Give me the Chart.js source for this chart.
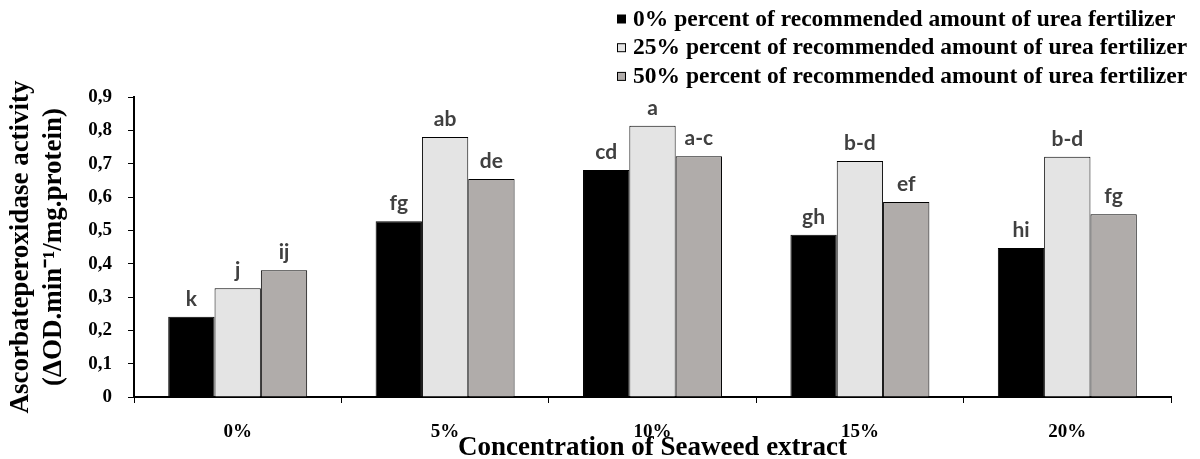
<!DOCTYPE html>
<html>
<head>
<meta charset="utf-8">
<script src="https://cdn.jsdelivr.net/npm/chart.js@4"></script>
<style>
  html, body { margin: 0; padding: 0; background: #fff; }
  #wrap { width: 1200px; height: 459px; }
</style>
</head>
<body>
<div id="wrap"><canvas id="myChart"></canvas></div>
<script>
const categories = ['0%', '5%', '10%', '15%', '20%'];
const seriesNames = [
    '0% percent of recommended amount of urea fertilizer',
    '25% percent of recommended amount of urea fertilizer',
    '50% percent of recommended amount of urea fertilizer'
];
const urea0 = [0.241, 0.527, 0.681, 0.487, 0.447];
const urea25 = [0.326, 0.780, 0.814, 0.708, 0.721];
const urea50 = [0.380, 0.654, 0.722, 0.585, 0.548];
const letters0 = ['k', 'fg', 'cd', 'gh', 'hi'];
const letters25 = ['j', 'ab', 'a', 'b-d', 'b-d'];
const letters50 = ['ij', 'de', 'a-c', 'ef', 'fg'];
const yMin = 0, yMax = 0.9, yStep = 0.1;

const fills = ['#000000', '#e4e4e4', '#b0acaa'];
const serif = "'Liberation Serif', 'Times New Roman', serif";

// letters over the bars
const letterPlugin = {
    id: 'letters',
    afterDatasetsDraw(chart) {
        const all = [letters0, letters25, letters50];
        const ctx = chart.ctx;
        ctx.save();
        ctx.font = "bold 21px Lato, 'Open Sans', sans-serif";
        ctx.fillStyle = '#404040';
        ctx.textAlign = 'center';
        ctx.textBaseline = 'alphabetic';
        all.forEach((letters, i) => {
            chart.getDatasetMeta(i).data.forEach((bar, j) => {
                ctx.fillText(letters[j], bar.x, bar.y - 11);
            });
        });
        ctx.restore();
    }
};

// legend, stacked rows at top right
const legendPlugin = {
    id: 'sideLegend',
    afterDraw(chart) {
        const ctx = chart.ctx;
        ctx.save();
        ctx.font = 'bold 23.5px ' + serif;
        ctx.textBaseline = 'middle';
        ctx.textAlign = 'left';
        chart.data.datasets.forEach((ds, i) => {
            const y = 19.5 + i * 28.7;
            ctx.fillStyle = ds.backgroundColor;
            ctx.fillRect(617.5, y - 4.5, 8, 8);
            ctx.strokeStyle = '#000';
            ctx.lineWidth = 1;
            ctx.strokeRect(617.5, y - 4.5, 8, 8);
            ctx.fillStyle = '#000';
            ctx.fillText(ds.label, 633, y);
        });
        ctx.restore();
    }
};

const ctx = document.getElementById('myChart').getContext('2d');
const myChart = new Chart(ctx, {
    type: 'bar',
    data: {
        labels: categories,
        datasets: [urea0, urea25, urea50].map((vals, i) => ({
            label: seriesNames[i],
            data: vals,
            backgroundColor: fills[i],
            borderColor: '#000000',
            borderWidth: 1,
            categoryPercentage: 0.67,
            barPercentage: 1.0
        }))
    },
    options: {
        responsive: true,
        maintainAspectRatio: false,
        animation: false,
        layout: { padding: { top: 97, right: 29, left: 0, bottom: 0 } },
        plugins: {
            legend: { display: false },
            tooltip: { enabled: false }
        },
        scales: {
            x: {
                afterFit: s => { s.height = 62; },
                border: { display: true, color: '#000', width: 2 },
                grid: { drawOnChartArea: false, color: '#000', tickLength: 6, lineWidth: 1 },
                ticks: { color: '#000', padding: 18, font: { family: serif, size: 19, weight: 'bold' } },
                title: {
                    display: true,
                    text: 'Concentration of Seaweed extract',
                    color: '#000',
                    padding: 0,
                    font: { family: serif, size: 27, weight: 'bold', lineHeight: 0.8 }
                }
            },
            y: {
                min: yMin,
                max: yMax,
                afterFit: s => { s.width = 134; },
                border: { display: true, color: '#000', width: 2 },
                grid: { drawOnChartArea: false, color: '#000', tickLength: 6, lineWidth: 1 },
                ticks: {
                    stepSize: yStep,
                    color: '#000',
                    padding: 16,
                    font: { family: serif, size: 19, weight: 'bold' },
                    callback: v => (v === 0 ? '0' : v.toFixed(1).replace('.', ','))
                },
                title: {
                    display: true,
                    text: ['Ascorbateperoxidase activity', '(\u0394OD.min\u207B\u00B9/mg.protein)'],
                    color: '#000',
                    padding: { top: 5, bottom: 0 },
                    font: { family: serif, size: 27, weight: 'bold', lineHeight: 1.2 }
                }
            }
        }
    },
    plugins: [letterPlugin, legendPlugin]
});
</script>
</body>
</html>
